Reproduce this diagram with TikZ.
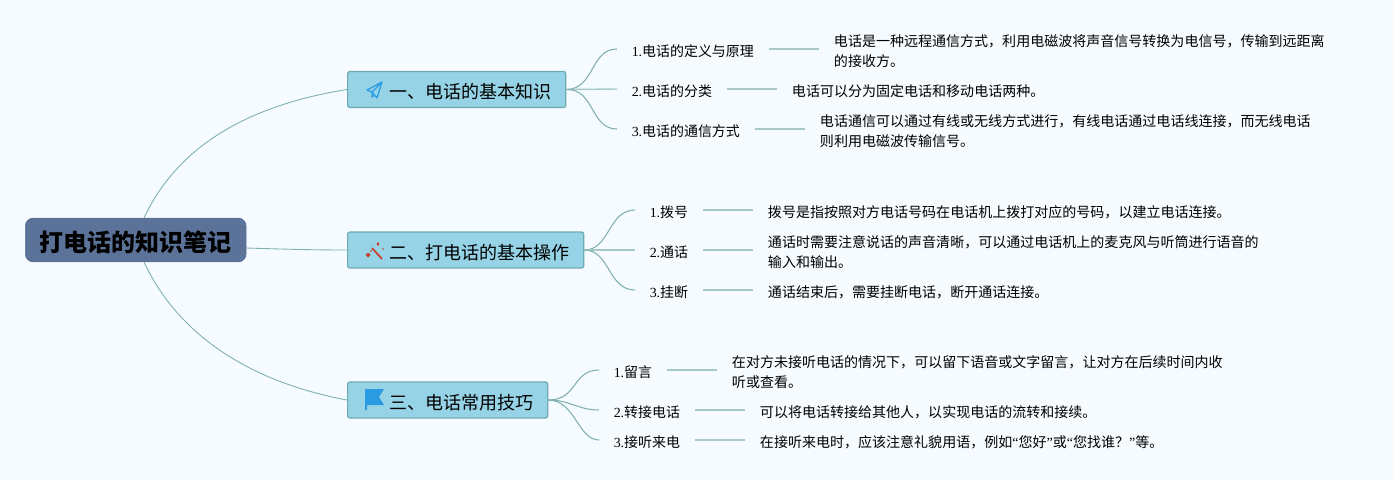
\documentclass[tikz,border=0pt]{standalone}
\usepackage{fontspec}
\setmainfont{Liberation Serif}
\newfontfamily\cjk{Noto Sans CJK SC}
\definecolor{pagebg}{HTML}{F5FBFF}
\definecolor{mainfill}{HTML}{5B7399}
\definecolor{branchfill}{HTML}{96D3E6}
\definecolor{branchline}{HTML}{6FAAB0}
\definecolor{curveline}{HTML}{7FB0AE}
\definecolor{leafline}{HTML}{A8C9C9}
\definecolor{iconblue}{HTML}{2A9BE0}
\definecolor{iconred}{HTML}{C8402F}
\tikzset{
  mainbox/.style={draw=mainfill,fill=mainfill,rounded corners=4.5pt,minimum width=125.6pt,minimum height=24.9pt,inner xsep=0pt,inner ysep=0pt,text height=13.6pt,text depth=0.4pt,anchor=west,font=\cjk\fontsize{13.65}{16}\selectfont\bfseries},
  branchbox/.style={draw=branchline,fill=branchfill,line width=0.7pt,rounded corners=1.2pt,minimum height=20.4pt,inner xsep=8.3pt,inner ysep=0pt,text height=11pt,text depth=0.6pt,anchor=west,font=\cjk\fontsize{10.25}{12}\selectfont},
  labeltext/.style={inner xsep=8.2pt,inner ysep=1pt,text height=9.8pt,text depth=0.9pt,anchor=west,font=\cjk\fontsize{7.94}{11.34}\selectfont},
  detailtext/.style={inner xsep=8.33pt,inner ysep=1pt,anchor=west,align=left,font=\cjk\fontsize{7.98}{11.34}\selectfont},
  maincurve/.style={draw=curveline,line width=0.5pt},
  leafcurve/.style={draw=curveline,line width=0.6pt},
  leafbar/.style={draw=leafline,line width=0.8pt}
}
\newcommand{\iconspace}{\hspace{15.3pt}}
\begin{document}
\begin{tikzpicture}[x=0.02cm,y=-0.02cm]
\useasboundingbox (0,0) rectangle (1394,480);
\fill[pagebg] (0,0) rectangle (1394,480);

% centre and the three branches
\node[mainbox] (Root) at (25,240) {打电话的知识笔记};
\node[branchbox] (B1) at (347,89.5) {\iconspace 一、电话的基本知识};
\node[branchbox] (B2) at (347,250) {\iconspace 二、打电话的基本操作};
\node[branchbox] (B3) at (347,400) {\iconspace 三、电话常用技巧};
\coordinate (RootTop) at (144,218);
\coordinate (RootBot) at (144,262);
\coordinate (RootEnd) at (246,248);
\draw[maincurve] (RootTop) .. controls (178,145) and (250,105) .. (B1.west);
\draw[maincurve] (RootEnd) .. controls (280,249) and (310,250) .. (B2.west);
\draw[maincurve] (RootBot) .. controls (178,335) and (250,382) .. (B3.west);

% first group
\node[labeltext] (L11) at (617,49) {{\rmfamily 1.}电话的定义与原理};
\node[labeltext] (L12) at (617,89) {{\rmfamily 2.}电话的分类};
\node[labeltext] (L13) at (617,129) {{\rmfamily 3.}电话的通信方式};
\node[detailtext] (D11) at (819,51.5) {电话是一种远程通信方式，利用电磁波将声音信号转换为电信号，传输到远距离\\的接收方。};
\node[detailtext] (D12) at (777,91.5) {电话可以分为固定电话和移动电话两种。};
\node[detailtext] (D13) at (805,131.5) {电话通信可以通过有线或无线方式进行，有线电话通过电话线连接，而无线电话\\则利用电磁波传输信号。};
\draw[leafcurve] (B1.east) .. controls (595,89) and (590,49) .. (L11.west);
\draw[leafbar] (B1.east) -- (L12.west);
\draw[leafcurve] (B1.east) .. controls (595,89) and (590,129) .. (L13.west);
\draw[leafbar] (L11.east) -- (L11.east-|D11.west);
\draw[leafbar] (L12.east) -- (L12.east-|D12.west);
\draw[leafbar] (L13.east) -- (L13.east-|D13.west);

% second group
\node[labeltext] (L21) at (635,210) {{\rmfamily 1.}拨号};
\node[labeltext] (L22) at (635,250) {{\rmfamily 2.}通话};
\node[labeltext] (L23) at (635,290) {{\rmfamily 3.}挂断};
\node[detailtext] (D21) at (753,212) {拨号是指按照对方电话号码在电话机上拨打对应的号码，以建立电话连接。};
\node[detailtext] (D22) at (753,252) {通话时需要注意说话的声音清晰，可以通过电话机上的麦克风与听筒进行语音的\\输入和输出。};
\node[detailtext] (D23) at (753,292) {通话结束后，需要挂断电话，断开通话连接。};
\draw[leafcurve] (B2.east) .. controls (610,250) and (608,210) .. (L21.west);
\draw[leafbar] (B2.east) -- (L22.west);
\draw[leafcurve] (B2.east) .. controls (610,250) and (608,290) .. (L23.west);
\draw[leafbar] (L21.east) -- (L21.east-|D21.west);
\draw[leafbar] (L22.east) -- (L22.east-|D22.west);
\draw[leafbar] (L23.east) -- (L23.east-|D23.west);

% third group
\node[labeltext] (L31) at (599,370) {{\rmfamily 1.}留言};
\node[labeltext] (L32) at (599,410) {{\rmfamily 2.}转接电话};
\node[labeltext] (L33) at (599,440) {{\rmfamily 3.}接听来电};
\node[detailtext] (D31) at (717,372) {在对方未接听电话的情况下，可以留下语音或文字留言，让对方在后续时间内收\\听或查看。};
\node[detailtext] (D32) at (745,412) {可以将电话转接给其他人，以实现电话的流转和接续。};
\node[detailtext] (D33) at (745,442) {在接听来电时，应该注意礼貌用语，例如{\rmfamily “}您好{\rmfamily ”}或{\rmfamily “}您找谁？{\rmfamily ”}等。};
\draw[leafcurve] (B3.east) .. controls (578,400) and (572,370) .. (L31.west);
\draw[leafcurve] (B3.east) .. controls (570,400) and (578,410) .. (L32.west);
\draw[leafcurve] (B3.east) .. controls (575,400) and (578,440) .. (L33.west);
\draw[leafbar] (L31.east) -- (L31.east-|D31.west);
\draw[leafbar] (L32.east) -- (L32.east-|D32.west);
\draw[leafbar] (L33.east) -- (L33.east-|D33.west);

% icons
\draw[iconblue,line width=0.7pt,line join=round] (367,90) -- (382,82) -- (377,98) -- (372,92) -- cycle (372,92) -- (382,82) (372,92) -- (372,97) -- (375,95);
\draw[iconred,line width=1pt] (372,248) -- (382,259);
\fill[iconred] (365.5,255) -- (368,252.5) -- (370.5,255) -- (368,257.5) -- cycle (371,251) circle (1) (378,242) -- (379.5,244) -- (378,246) -- (376.5,244) -- cycle (383,249) circle (0.8);
\fill[iconblue] (365,389) -- (384,389) -- (379,397) -- (384,405) -- (367,405) -- (367,410) -- (365,410) -- cycle;
\end{tikzpicture}
\end{document}
